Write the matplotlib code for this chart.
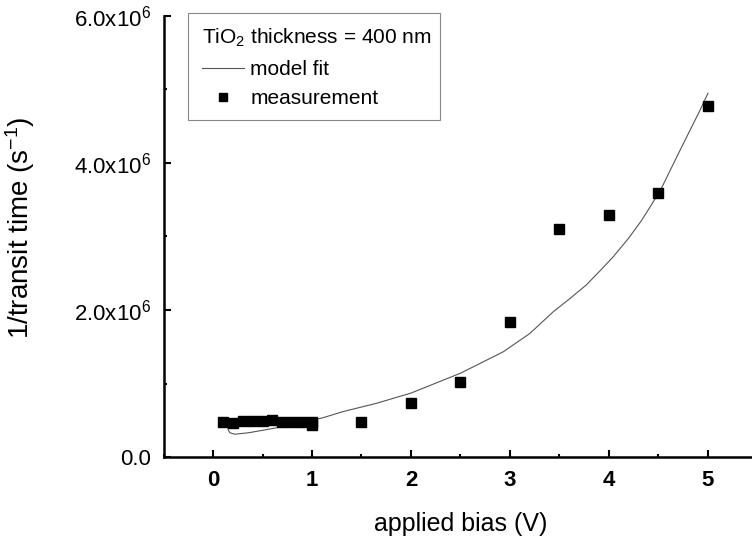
import matplotlib.pyplot as plt
from matplotlib.patches import Rectangle
from matplotlib.ticker import FuncFormatter, MultipleLocator

plt.rcParams['font.family'] = ['Liberation Sans', 'DejaVu Sans']
plt.rcParams['mathtext.fontset'] = 'custom'
plt.rcParams['mathtext.rm'] = 'Liberation Sans'
plt.rcParams['mathtext.it'] = 'Liberation Sans:italic'
plt.rcParams['mathtext.bf'] = 'Liberation Sans:bold'

# measured points (bias in V, 1/transit time in s^-1)
bias = [0.1, 0.2, 0.3, 0.4, 0.5, 0.6, 0.7, 0.8, 0.9, 1.0, 1.0, 1.5,
        2.0, 2.5, 3.0, 3.5, 4.0, 4.5, 5.0]
rate = [0.47e6, 0.465e6, 0.49e6, 0.49e6, 0.49e6, 0.51e6, 0.47e6, 0.48e6,
        0.48e6, 0.47e6, 0.43e6, 0.47e6, 0.73e6, 1.02e6, 1.84e6, 3.10e6,
        3.29e6, 3.59e6, 4.78e6]

# model fit curve
fit_bias = [0.15, 0.17, 0.22, 0.36, 0.53, 0.69, 0.90, 1.10, 1.32, 1.65,
            2.0, 2.5, 2.93, 3.2, 3.44, 3.6, 3.77, 3.9, 4.04, 4.2, 4.33,
            4.52, 4.72, 4.92, 5.0]
fit_rate = [0.38e6, 0.33e6, 0.31e6, 0.33e6, 0.37e6, 0.41e6, 0.47e6, 0.53e6,
            0.62e6, 0.73e6, 0.87e6, 1.14e6, 1.43e6, 1.68e6, 1.98e6, 2.15e6,
            2.34e6, 2.52e6, 2.72e6, 2.98e6, 3.22e6, 3.63e6, 4.18e6, 4.72e6,
            4.95e6]

fig = plt.figure(figsize=(7.52, 5.39), dpi=100)
ax = fig.add_axes([163.5 / 752, 1 - 457 / 539, 594 / 752, 441 / 539])

ax.plot(fit_bias, fit_rate, color='#555555', lw=0.8, label='model fit')
ax.plot(bias, rate, 's', color='black', ms=6.5, label='measurement')

ax.set_xlim(-0.5, 5.5)
ax.set_ylim(0, 6e6)
ax.xaxis.set_major_locator(MultipleLocator(1))
ax.xaxis.set_minor_locator(MultipleLocator(0.5))
ax.yaxis.set_major_locator(MultipleLocator(2e6))
ax.yaxis.set_minor_locator(MultipleLocator(1e6))


def sci(v, pos):
    if v == 0:
        return '0.0'
    return r'$\mathregular{%.1fx10^{6}}$' % (v / 1e6)


ax.yaxis.set_major_formatter(FuncFormatter(sci))

for s in ['top', 'right']:
    ax.spines[s].set_visible(False)
for s in ['left', 'bottom']:
    ax.spines[s].set_linewidth(1.8)

ax.tick_params(which='major', direction='in', length=5, width=1.5)
ax.tick_params(which='minor', direction='in', length=2.5, width=1.5)
ax.tick_params(axis='y', labelsize=16, pad=9)
ax.tick_params(axis='x', labelsize=16, pad=9)
for t in ax.get_xticklabels():
    t.set_fontweight('bold')

ax.set_xlabel('applied bias (V)', fontsize=18)
ax.xaxis.set_label_coords(0.5, -0.125)
ax.set_ylabel(r'1/transit time (s$^{\mathregular{-1}}$)', fontsize=20)
ax.yaxis.set_label_coords(-0.213, 0.519)

leg = ax.legend(title=r'TiO$_{\mathregular{2}}$ thickness = 400 nm',
                loc='upper left', bbox_to_anchor=(0.041, 1.008),
                fontsize=15, title_fontsize=15, frameon=False,
                handlelength=2.0, handletextpad=0.3, markerscale=0.8,
                labelspacing=0.45, borderpad=0.7, borderaxespad=0)
leg._legend_box.align = 'left'
leg._legend_box.sep = 8

# legend frame, tighter on the right as in the original
fig.patches.append(Rectangle((188 / 752, 1 - 120 / 539), 252 / 752, 107 / 539,
                             transform=fig.transFigure, fill=False,
                             edgecolor='#888888', lw=0.8))

fig.savefig('out.png', dpi=100)
